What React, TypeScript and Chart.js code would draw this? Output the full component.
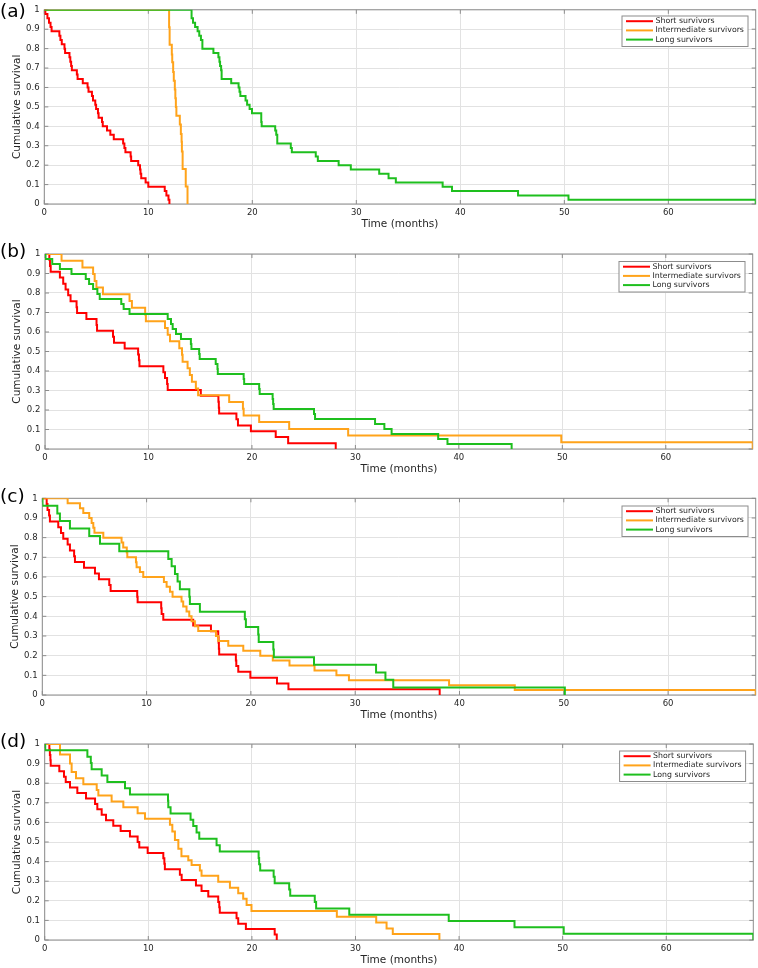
import React, { useEffect, useRef } from "react";
import { Chart, registerables } from "chart.js";

Chart.register(...registerables);

// ---------------- Data ----------------
const X_MAX = 68.4;
const xTickValues = [0, 10, 20, 30, 40, 50, 60];
const xTickLabels = ["0", "10", "20", "30", "40", "50", "60"];
const yTickValues = [0, 0.1, 0.2, 0.3, 0.4, 0.5, 0.6, 0.7, 0.8, 0.9, 1];
const yTickLabels = ["0", "0.1", "0.2", "0.3", "0.4", "0.5", "0.6", "0.7", "0.8", "0.9", "1"];
const seriesNames = ["Short survivors", "Intermediate survivors", "Long survivors"];
const panelLabels = ["(a)", "(b)", "(c)", "(d)"];
const xTitle = "Time (months)";
const yTitle = "Cumulative survival";

// Panel (a)
const aShortT = [0, 0.1, 0.3, 0.45, 0.6, 0.7, 1.45, 1.55, 1.68, 1.94, 2.0, 2.42, 2.5, 2.58, 2.65, 3.13, 3.2, 3.7, 4.16, 4.25, 4.58, 4.68, 4.9, 4.98, 5.16, 5.22, 5.55, 5.62, 6.03, 6.35, 6.68, 7.58, 7.7, 7.8, 8.3, 8.35, 9.03, 9.2, 9.25, 9.32, 9.74, 10.0, 11.58, 11.74, 11.94, 12.03];
const aShortS = [1, 0.978, 0.956, 0.933, 0.911, 0.889, 0.867, 0.844, 0.822, 0.8, 0.778, 0.756, 0.733, 0.711, 0.689, 0.667, 0.644, 0.622, 0.6, 0.578, 0.556, 0.533, 0.511, 0.489, 0.467, 0.444, 0.422, 0.4, 0.378, 0.356, 0.333, 0.311, 0.289, 0.267, 0.244, 0.222, 0.2, 0.178, 0.156, 0.133, 0.111, 0.089, 0.067, 0.044, 0.022, 0];
const aInterT = [0, 12.0, 12.05, 12.26, 12.3, 12.39, 12.45, 12.55, 12.6, 12.65, 12.7, 13.03, 13.13, 13.2, 13.23, 13.3, 13.6, 13.77];
const aInterS = [1, 0.91, 0.82, 0.77, 0.73, 0.68, 0.635, 0.59, 0.545, 0.5, 0.455, 0.41, 0.36, 0.32, 0.27, 0.18, 0.09, 0];
const aLongT = [0, 14.16, 14.3, 14.5, 14.74, 14.9, 15.06, 15.2, 16.26, 16.74, 16.84, 16.9, 17.0, 17.05, 17.97, 18.68, 18.77, 18.85, 19.35, 19.5, 19.74, 19.97, 20.86, 20.9, 22.2, 22.3, 22.4, 23.7, 23.8, 26.1, 26.3, 28.3, 29.47, 32.2, 33.1, 33.8, 38.3, 39.2, 45.55, 50.4, 68.4];
const aLongS = [1, 0.956, 0.933, 0.911, 0.889, 0.867, 0.844, 0.8, 0.778, 0.756, 0.733, 0.711, 0.689, 0.644, 0.622, 0.6, 0.578, 0.556, 0.533, 0.511, 0.489, 0.467, 0.422, 0.4, 0.378, 0.356, 0.311, 0.289, 0.267, 0.244, 0.222, 0.2, 0.178, 0.156, 0.133, 0.111, 0.089, 0.067, 0.044, 0.022, 0];

// Panel (b)
const bShortT = [0, 0.42, 0.48, 0.55, 1.44, 1.76, 1.99, 2.24, 2.47, 3.05, 3.1, 4.0, 4.98, 5.03, 6.57, 6.67, 7.7, 9.0, 9.08, 9.13, 11.44, 11.6, 11.8, 11.86, 15.06, 16.76, 16.8, 16.83, 18.5, 18.65, 19.9, 22.3, 23.5, 28.1];
const bShortS = [1, 0.97, 0.939, 0.909, 0.879, 0.848, 0.818, 0.788, 0.758, 0.727, 0.697, 0.667, 0.636, 0.606, 0.576, 0.545, 0.515, 0.485, 0.455, 0.424, 0.394, 0.364, 0.333, 0.303, 0.273, 0.242, 0.212, 0.182, 0.152, 0.121, 0.091, 0.061, 0.03, 0];
const bInterT = [0, 1.6, 3.62, 4.65, 4.8, 4.97, 5.6, 8.17, 8.4, 9.68, 9.75, 11.6, 11.86, 12.08, 12.98, 13.24, 13.3, 13.78, 14.0, 14.2, 14.58, 14.8, 17.8, 19.13, 19.2, 20.7, 23.6, 29.3, 49.9, 68.4];
const bInterS = [1, 0.966, 0.931, 0.897, 0.862, 0.828, 0.793, 0.759, 0.724, 0.69, 0.655, 0.621, 0.586, 0.552, 0.517, 0.483, 0.448, 0.414, 0.379, 0.345, 0.31, 0.276, 0.241, 0.207, 0.172, 0.138, 0.103, 0.069, 0.034, 0];
const bLongT = [0, 0.05, 0.7, 1.44, 2.56, 3.94, 4.26, 4.65, 5.06, 5.29, 7.37, 7.6, 8.17, 11.86, 12.18, 12.34, 12.66, 13.14, 14.1, 14.15, 14.9, 14.95, 16.5, 16.67, 16.7, 19.2, 19.25, 20.7, 20.75, 22.0, 22.05, 22.1, 26.0, 26.1, 31.9, 32.8, 33.5, 38.0, 38.9, 45.1];
const bLongS = [1, 0.974, 0.949, 0.923, 0.897, 0.872, 0.846, 0.821, 0.795, 0.769, 0.744, 0.718, 0.692, 0.667, 0.641, 0.615, 0.59, 0.564, 0.538, 0.513, 0.487, 0.462, 0.436, 0.41, 0.385, 0.359, 0.333, 0.308, 0.282, 0.256, 0.231, 0.205, 0.179, 0.154, 0.128, 0.103, 0.077, 0.051, 0.026, 0];

// Panel (c)
const cShortT = [0, 0.42, 0.5, 0.65, 0.73, 1.53, 1.79, 2.01, 2.43, 2.65, 3.05, 3.13, 4.0, 5.05, 5.43, 6.42, 6.55, 9.1, 9.14, 11.4, 11.44, 11.6, 14.47, 16.17, 16.87, 16.9, 16.93, 16.96, 18.56, 18.6, 18.79, 19.95, 22.5, 23.6, 38.1];
const cShortS = [1, 0.971, 0.941, 0.912, 0.882, 0.853, 0.824, 0.794, 0.765, 0.735, 0.706, 0.676, 0.647, 0.618, 0.588, 0.559, 0.529, 0.5, 0.471, 0.441, 0.412, 0.382, 0.353, 0.324, 0.294, 0.265, 0.235, 0.206, 0.176, 0.147, 0.118, 0.088, 0.059, 0.029, 0];
const cInterT = [0, 2.43, 3.61, 3.93, 4.5, 4.73, 4.89, 5.0, 5.85, 7.6, 7.76, 8.1, 8.15, 8.98, 9.04, 9.36, 9.68, 11.66, 11.92, 12.24, 12.49, 13.35, 13.51, 13.83, 14.09, 14.31, 14.63, 14.95, 16.65, 16.87, 17.83, 19.27, 20.9, 22.1, 23.7, 26.1, 28.2, 29.4, 39.0, 45.3, 68.4];
const cInterS = [1, 0.975, 0.95, 0.925, 0.9, 0.875, 0.85, 0.825, 0.8, 0.775, 0.75, 0.725, 0.7, 0.675, 0.65, 0.625, 0.6, 0.575, 0.55, 0.525, 0.5, 0.475, 0.45, 0.425, 0.4, 0.375, 0.35, 0.325, 0.3, 0.275, 0.25, 0.225, 0.2, 0.175, 0.15, 0.125, 0.1, 0.075, 0.05, 0.025, 0];
const cLongT = [0, 0.02, 1.44, 1.69, 2.65, 4.5, 5.53, 7.38, 12.08, 12.4, 12.72, 12.97, 13.19, 14.1, 14.15, 15.11, 19.42, 19.52, 20.7, 20.75, 22.15, 22.2, 26.05, 32.0, 32.9, 33.65, 50.1];
const cLongS = [1, 0.962, 0.923, 0.885, 0.846, 0.808, 0.769, 0.731, 0.692, 0.654, 0.615, 0.577, 0.538, 0.5, 0.462, 0.423, 0.385, 0.346, 0.308, 0.269, 0.231, 0.192, 0.154, 0.115, 0.077, 0.038, 0];

// Panel (d)
const dShortT = [0, 0.45, 0.5, 0.55, 0.58, 1.41, 1.86, 2.03, 2.44, 3.15, 3.99, 4.86, 5.08, 5.5, 5.92, 6.62, 7.33, 8.23, 8.97, 9.13, 9.94, 11.45, 11.55, 11.6, 13.05, 13.22, 14.6, 15.14, 15.79, 16.75, 16.85, 16.9, 18.52, 18.68, 19.42, 22.2, 22.4];
const dShortS = [1, 0.972, 0.944, 0.917, 0.889, 0.861, 0.833, 0.806, 0.778, 0.75, 0.722, 0.694, 0.667, 0.639, 0.611, 0.583, 0.556, 0.528, 0.5, 0.472, 0.444, 0.417, 0.389, 0.361, 0.333, 0.306, 0.278, 0.25, 0.222, 0.194, 0.167, 0.139, 0.111, 0.083, 0.056, 0.028, 0];
const dInterT = [0, 1.48, 2.44, 2.6, 3.02, 3.73, 5.02, 5.18, 6.46, 7.59, 8.97, 9.68, 12.09, 12.32, 12.57, 12.9, 13.2, 13.86, 14.18, 14.98, 15.14, 16.75, 17.88, 18.68, 19.16, 19.49, 19.96, 28.2, 32.0, 33.0, 33.6, 38.1];
const dInterS = [1, 0.947, 0.9, 0.857, 0.825, 0.795, 0.765, 0.737, 0.706, 0.677, 0.647, 0.618, 0.588, 0.554, 0.51, 0.466, 0.427, 0.407, 0.383, 0.355, 0.328, 0.297, 0.267, 0.238, 0.211, 0.179, 0.148, 0.118, 0.089, 0.059, 0.03, 0];
const dLongT = [0, 0.05, 4.12, 4.45, 4.53, 5.5, 6.05, 7.75, 8.23, 11.9, 11.93, 12.15, 14.08, 14.34, 14.66, 14.92, 16.59, 16.9, 20.65, 20.7, 20.8, 22.1, 22.2, 23.6, 23.7, 26.07, 26.2, 29.4, 39.0, 45.35, 50.1, 68.4];
const dLongS = [1, 0.968, 0.935, 0.903, 0.871, 0.839, 0.806, 0.774, 0.742, 0.71, 0.677, 0.645, 0.613, 0.581, 0.548, 0.516, 0.484, 0.452, 0.419, 0.387, 0.355, 0.323, 0.29, 0.258, 0.226, 0.194, 0.161, 0.129, 0.097, 0.065, 0.032, 0];

// ---------------- Styling / layout ----------------
const COLORS = ["#ff0000", "#ffa31a", "#1ebf1e"];
const FONT = "'DejaVu Sans', 'Liberation Sans', sans-serif";
const TEXT_COLOR = "#262626";
const GRID_COLOR = "#e2e2e2";
const BOX_COLOR = "#8c8c8c";
const CANVAS_W = 758;
const CANVAS_H = 245;

type PanelLayout = {
  top: number;
  plotTop: number;
  plotBottom: number;
  plotLeft: number;
  plotRight: number;
  legendTop: number;
  yTitleX: number;
};

const layouts: PanelLayout[] = [
  { top: 0, plotTop: 7.5, plotBottom: 204, plotLeft: 44.3, plotRight: 755.7, legendTop: 16, yTitleX: 17 },
  { top: 240, plotTop: 14, plotBottom: 209, plotLeft: 45, plotRight: 752.7, legendTop: 21.5, yTitleX: 17.5 },
  { top: 485, plotTop: 13.3, plotBottom: 210, plotLeft: 42.3, plotRight: 755.7, legendTop: 21, yTitleX: 15 },
  { top: 730, plotTop: 14, plotBottom: 210, plotLeft: 44.7, plotRight: 753.3, legendTop: 21, yTitleX: 17.5 },
];

const panelSeries = [
  [[aShortT, aShortS], [aInterT, aInterS], [aLongT, aLongS]],
  [[bShortT, bShortS], [bInterT, bInterS], [bLongT, bLongS]],
  [[cShortT, cShortS], [cInterT, cInterS], [cLongT, cLongS]],
  [[dShortT, dShortS], [dInterT, dInterS], [dLongT, dLongS]],
];

function makeDecor(L: PanelLayout, label: string) {
  return {
    id: "decor",
    beforeDatasetsDraw(chart: any) {
      const { ctx, chartArea: a, scales } = chart;
      ctx.save();
      ctx.strokeStyle = BOX_COLOR;
      ctx.lineWidth = 1;
      ctx.strokeRect(a.left, a.top, a.right - a.left, a.bottom - a.top);
      ctx.beginPath();
      const tl = 4;
      for (const v of xTickValues) {
        const px = scales.x.getPixelForValue(v);
        ctx.moveTo(px, a.bottom);
        ctx.lineTo(px, a.bottom - tl);
        ctx.moveTo(px, a.top);
        ctx.lineTo(px, a.top + tl);
      }
      for (const v of yTickValues) {
        const py = scales.y.getPixelForValue(v);
        ctx.moveTo(a.left, py);
        ctx.lineTo(a.left + tl, py);
        ctx.moveTo(a.right, py);
        ctx.lineTo(a.right - tl, py);
      }
      ctx.stroke();
      ctx.restore();
    },
    afterDraw(chart: any) {
      const { ctx, chartArea: a } = chart;
      ctx.save();
      // legend box
      const w = 126;
      const h = 30.5;
      const x = a.right - 7.7 - w;
      const y = L.legendTop;
      ctx.fillStyle = "#ffffff";
      ctx.fillRect(x, y, w, h);
      ctx.strokeStyle = BOX_COLOR;
      ctx.lineWidth = 1;
      ctx.strokeRect(x, y, w, h);
      ctx.font = `7.8px ${FONT}`;
      ctx.textBaseline = "middle";
      ctx.textAlign = "left";
      seriesNames.forEach((name, i) => {
        const ry = y + 5.2 + i * 9.2;
        ctx.strokeStyle = COLORS[i];
        ctx.lineWidth = 2;
        ctx.beginPath();
        ctx.moveTo(x + 4, ry);
        ctx.lineTo(x + 31, ry);
        ctx.stroke();
        ctx.fillStyle = TEXT_COLOR;
        ctx.fillText(name, x + 33.5, ry);
      });
      // panel label
      ctx.font = `18.5px ${FONT}`;
      ctx.textBaseline = "alphabetic";
      ctx.fillStyle = "#000000";
      ctx.fillText(label, 0, 16.5);
      ctx.restore();
    },
  };
}

function Panel({ index }: { index: number }) {
  const ref = useRef<HTMLCanvasElement | null>(null);
  const L = layouts[index];

  useEffect(() => {
    const canvas = ref.current;
    if (!canvas) return;
    const series = panelSeries[index];
    const datasets = series.map((pair, i) => ({
      label: seriesNames[i],
      data: pair[0].map((t, j) => ({ x: t, y: pair[1][j] })),
      borderColor: COLORS[i],
      backgroundColor: COLORS[i],
      borderWidth: 2,
      pointRadius: 0,
      stepped: "before" as const,
      fill: false,
      order: 3 - i,
    }));

    const chart = new Chart(canvas, {
      type: "line",
      data: { datasets },
      plugins: [makeDecor(L, panelLabels[index])],
      options: {
        responsive: false,
        animation: false,
        devicePixelRatio: 1,
        events: [],
        layout: { padding: { top: L.plotTop, left: 0, right: CANVAS_W - L.plotRight, bottom: 0 } },
        plugins: {
          legend: { display: false },
          tooltip: { enabled: false },
          title: { display: false },
        },
        scales: {
          x: {
            type: "linear",
            min: 0,
            max: X_MAX,
            bounds: "data",
            afterBuildTicks: (s: any) => {
              s.ticks = xTickValues.map((v) => ({ value: v }));
            },
            afterFit: (s: any) => {
              s.height = CANVAS_H - L.plotBottom;
            },
            ticks: {
              autoSkip: false,
              maxRotation: 0,
              padding: 3.5,
              color: TEXT_COLOR,
              font: { family: FONT, size: 8.5 },
              callback: (_v: any, i: number) => xTickLabels[i],
            },
            grid: { color: GRID_COLOR, lineWidth: 1, drawTicks: false },
            border: { display: false },
            title: {
              display: true,
              text: xTitle,
              color: TEXT_COLOR,
              font: { family: FONT, size: 10.5 },
              padding: { top: 0, bottom: CANVAS_H - (L.plotBottom + 20.5) - 6.3 },
            },
          },
          y: {
            type: "linear",
            min: 0,
            max: 1,
            bounds: "data",
            afterBuildTicks: (s: any) => {
              s.ticks = yTickValues.map((v) => ({ value: v }));
            },
            afterFit: (s: any) => {
              s.width = L.plotLeft;
            },
            ticks: {
              autoSkip: false,
              padding: 4.7,
              color: TEXT_COLOR,
              font: { family: FONT, size: 8.5 },
              callback: (_v: any, i: number) => yTickLabels[i],
            },
            grid: { color: GRID_COLOR, lineWidth: 1, drawTicks: false },
            border: { display: false },
            title: {
              display: true,
              text: yTitle,
              color: TEXT_COLOR,
              font: { family: FONT, size: 10.5 },
              padding: { top: L.yTitleX - 6.3, bottom: 0 },
            },
          },
        },
      } as any,
    });
    return () => chart.destroy();
  }, [index]);

  return (
    <canvas
      ref={ref}
      width={CANVAS_W}
      height={CANVAS_H}
      style={{ position: "absolute", left: 0, top: L.top, width: CANVAS_W, height: CANVAS_H }}
    />
  );
}

export default function App() {
  return (
    <div
      style={{
        position: "absolute",
        left: 0,
        top: 0,
        width: CANVAS_W,
        height: 968,
        overflow: "hidden",
        background: "#ffffff",
      }}
    >
      {layouts.map((_, i) => (
        <Panel key={i} index={i} />
      ))}
    </div>
  );
}
